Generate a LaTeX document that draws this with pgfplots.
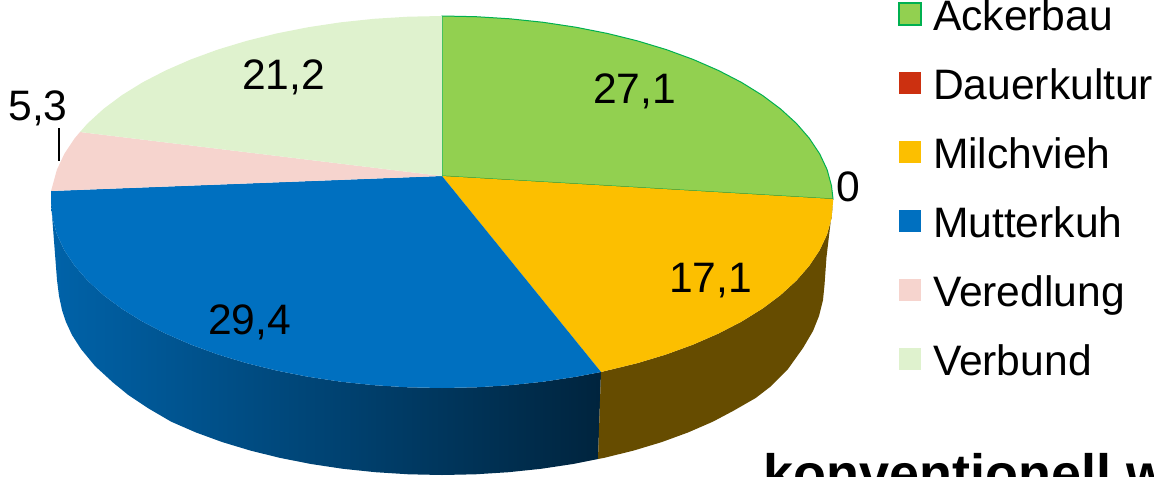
\documentclass[border=0pt]{standalone}
\usepackage{pgfplots}
\pgfplotsset{compat=1.18}
\usepackage{fontspec}
\setmainfont{Liberation Sans}
\definecolor{acker}{HTML}{92D050}
\definecolor{ackerline}{HTML}{00B050}
\definecolor{dauer}{HTML}{CC3010}
\definecolor{milch}{HTML}{FCBF00}
\definecolor{mutter}{HTML}{0070C0}
\definecolor{vered}{HTML}{F6D4CE}
\definecolor{verbund}{HTML}{DFF2CE}
\definecolor{milchwall}{HTML}{664C00}
\newcommand{\lab}{\fontsize{21.3}{25}\selectfont}
\begin{document}
\begin{tikzpicture}
\path[use as bounding box] (0,0) rectangle (577pt,238pt);
\clip (0,0) rectangle (577pt,238pt);
\begin{axis}[
  at={(0,0)}, anchor=south west,
  scale only axis, width=577pt, height=238pt,
  xmin=0, xmax=1154, ymin=0, ymax=476, y dir=reverse,
  axis lines=none,
  legend image code/.code={\path[#1] (0pt,-5pt) rectangle (11pt,6pt); \path (16.5pt,0pt);},
  legend style={
    at={(axis cs:898,0)}, anchor=north west,
    draw=none, fill=none, inner sep=0pt, outer sep=0pt,
    font=\lab, row sep=19.5pt,
    nodes={inner sep=0pt, text height=15pt, text depth=0pt},
  },
  legend cell align=left,
]
% side walls, not in the legend
\addplot[draw=none, forget plot, shading=axis, left color=mutter!88!black, middle color=mutter!62!black, right color=mutter!32!black]
 coordinates {(601,372)(575.7,376.8)(543.2,381.7)(509.9,385.2)(476.1,387.3)(442,388)(407.9,387.3)(374.1,385.2)(340.8,381.7)(308.3,376.8)(276.8,370.6)(246.5,363.1)(217.7,354.4)(190.7,344.5)(165.5,333.5)(142.5,321.6)(121.7,308.7)(103.4,295)(87.6,280.6)(74.6,265.6)(64.3,250.1)(56.9,234.3)(52.5,218.2)(51,202)
 (57,280)(59,296)(62,310)(66,322)(72,335)(81,349)(95,366)(113,382.5)(128.3,395)(148.6,408.5)(171.2,421.7)(195.8,432.4)(222.3,442.1)(250.5,450.6)(280.1,457.9)(311,464)(342.9,468.8)(375.5,472.2)(408.6,474.3)(442,475)(475.4,474.3)(508.5,472.2)(541.1,468.8)(573,464)(598,459)};
\addplot[draw=none, fill=milchwall, forget plot]
 coordinates {(601,372)(637.5,363.1)(666.3,354.4)(693.3,344.5)(718.5,333.5)(741.5,321.6)(762.3,308.7)(780.6,295)(796.4,280.6)(809.4,265.6)(819.7,250.1)(827.1,234.3)(831.5,218.2)(833,202)
 (826.5,257)(824.5,285)(823,300)(819,316)(813,331)(803,348)(788,369)(770,387)(755.7,398)(733,411)(712.8,421.7)(688.2,432.4)(661.7,442.1)(633.5,450.6)(603.9,457.9)(598,459)};
% top of the pie, one area per farm type
\addplot[fill=acker, draw=ackerline, line width=0.5pt, legend image post style={line width=1pt}]
 coordinates {(442,176)(833,199)(831.5,185.8)(827.1,169.7)(819.7,153.9)(809.4,138.4)(796.4,123.4)(780.6,109)(762.3,95.3)(741.5,82.4)(718.5,70.5)(693.3,59.5)(666.3,49.6)(637.5,40.9)(607.2,33.4)(575.7,27.2)(543.2,22.3)(509.9,18.8)(476.1,16.7)(442,16)(442,176)};
\addplot[fill=dauer, draw=none]
 coordinates {(442,176)(833,199)(833,199)};
\addplot[fill=milch, draw=none]
 coordinates {(442,176)(833,199)(833,202)(831.5,218.2)(827.1,234.3)(819.7,250.1)(809.4,265.6)(796.4,280.6)(780.6,295)(762.3,308.7)(741.5,321.6)(718.5,333.5)(693.3,344.5)(666.3,354.4)(637.5,363.1)(601,372)};
\addplot[fill=mutter, draw=none]
 coordinates {(442,176)(601,372)(575.7,376.8)(543.2,381.7)(509.9,385.2)(476.1,387.3)(442,388)(407.9,387.3)(374.1,385.2)(340.8,381.7)(308.3,376.8)(276.8,370.6)(246.5,363.1)(217.7,354.4)(190.7,344.5)(165.5,333.5)(142.5,321.6)(121.7,308.7)(103.4,295)(87.6,280.6)(74.6,265.6)(64.3,250.1)(56.9,234.3)(52.5,218.2)(51,202)(51,191)};
\addplot[fill=vered, draw=none]
 coordinates {(442,176)(51,191)(52.5,185.8)(56.9,169.7)(64.3,153.9)(74.6,138.4)(80,132)};
\addplot[fill=verbund, draw=none]
 coordinates {(442,176)(80,132)(87.6,123.4)(103.4,109)(121.7,95.3)(142.5,82.4)(165.5,70.5)(190.7,59.5)(217.7,49.6)(246.5,40.9)(276.8,33.4)(308.3,27.2)(340.8,22.3)(374.1,18.8)(407.9,16.7)(442,16)};
% leader line of the 5,3 label
\addplot[black, line width=0.6pt, forget plot] coordinates {(59,128)(59,161)};
\legend{Ackerbau,Dauerkultur,Milchvieh,Mutterkuh,Veredlung,Verbund}
\node[font=\lab, inner sep=0pt] at (axis cs:634.5,91) {27,1};
\node[font=\lab, inner sep=0pt] at (axis cs:283.5,77) {21,2};
\node[font=\lab, inner sep=0pt] at (axis cs:38,108) {5,3};
\node[font=\lab, inner sep=0pt] at (axis cs:848,187) {0};
\node[font=\lab, inner sep=0pt] at (axis cs:710.5,281) {17,1};
\node[font=\lab, inner sep=0pt] at (axis cs:249.5,322) {29,4};
\node[font=\fontsize{27}{30}\selectfont\bfseries, inner sep=0pt, anchor=base west] at (axis cs:763,492.5) {konventionell w};
\end{axis}
\end{tikzpicture}
\end{document}
